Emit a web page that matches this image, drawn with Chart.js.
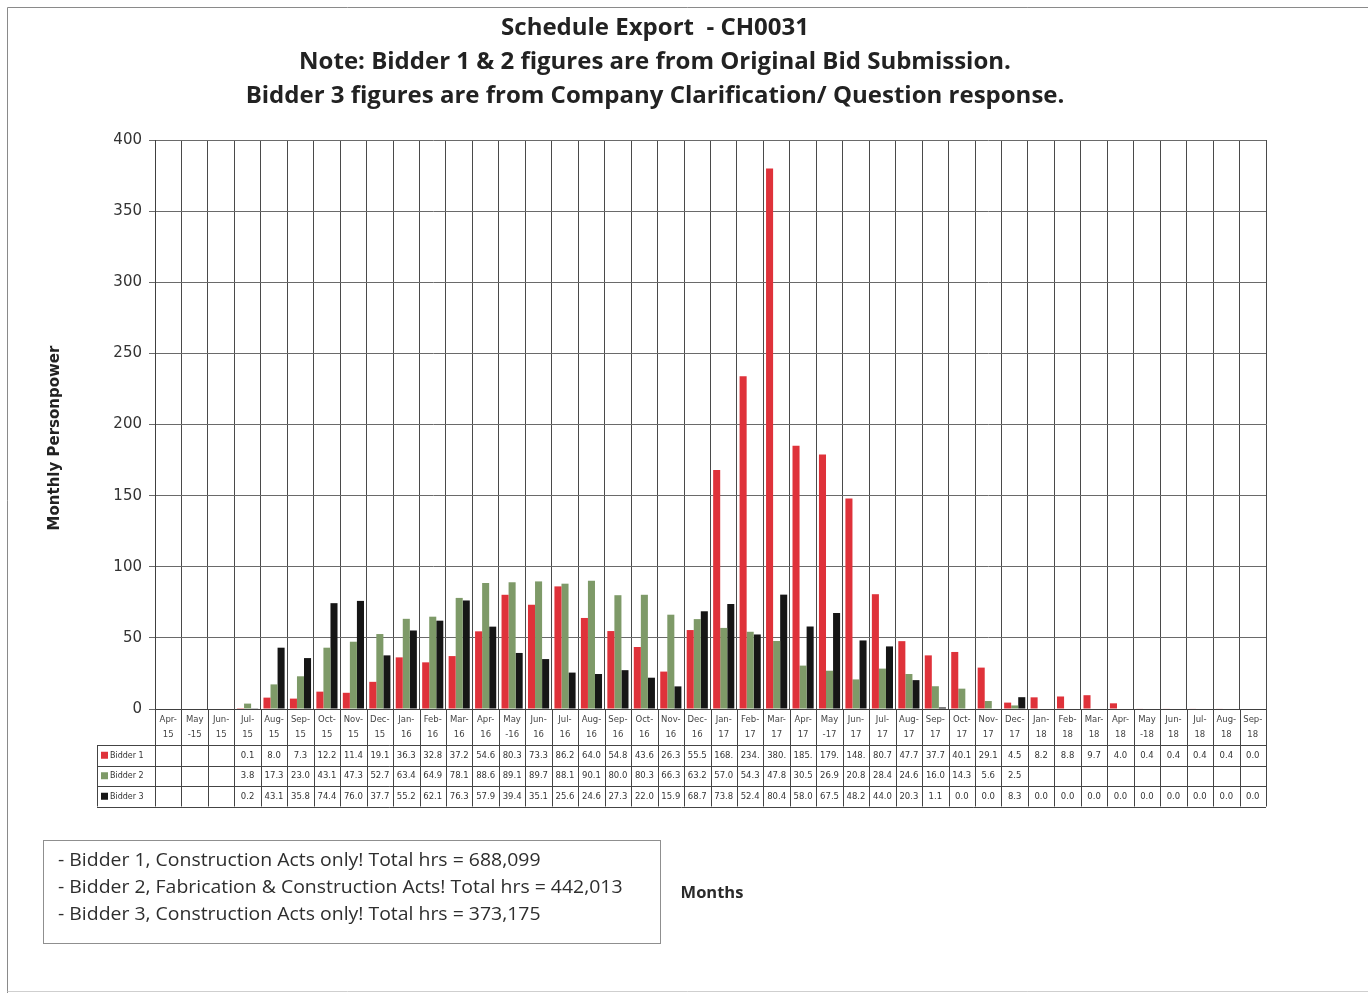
<!DOCTYPE html>
<html>
<head>
<meta charset="utf-8">
<title>Schedule Export - CH0031</title>
<script src="https://cdn.jsdelivr.net/npm/chart.js@4"></script>
<style>
  html, body { margin: 0; padding: 0; background: #fff; }
  #wrap { width: 1368px; height: 995px; position: relative; }
</style>
</head>
<body>
<div id="wrap"><canvas id="c" width="1368" height="995"></canvas></div>
<script>
// Months on the x axis
const months = [
  'Apr-15','May-15','Jun-15','Jul-15','Aug-15','Sep-15','Oct-15','Nov-15','Dec-15',
  'Jan-16','Feb-16','Mar-16','Apr-16','May-16','Jun-16','Jul-16','Aug-16','Sep-16','Oct-16','Nov-16','Dec-16',
  'Jan-17','Feb-17','Mar-17','Apr-17','May-17','Jun-17','Jul-17','Aug-17','Sep-17','Oct-17','Nov-17','Dec-17',
  'Jan-18','Feb-18','Mar-18','Apr-18','May-18','Jun-18','Jul-18','Aug-18','Sep-18'
];
// Two-line month labels shown in the table header
const monthLabels = [
  ['Apr-','15'],['May','-15'],['Jun-','15'],['Jul-','15'],['Aug-','15'],['Sep-','15'],['Oct-','15'],['Nov-','15'],['Dec-','15'],
  ['Jan-','16'],['Feb-','16'],['Mar-','16'],['Apr-','16'],['May','-16'],['Jun-','16'],['Jul-','16'],['Aug-','16'],['Sep-','16'],['Oct-','16'],['Nov-','16'],['Dec-','16'],
  ['Jan-','17'],['Feb-','17'],['Mar-','17'],['Apr-','17'],['May','-17'],['Jun-','17'],['Jul-','17'],['Aug-','17'],['Sep-','17'],['Oct-','17'],['Nov-','17'],['Dec-','17'],
  ['Jan-','18'],['Feb-','18'],['Mar-','18'],['Apr-','18'],['May','-18'],['Jun-','18'],['Jul-','18'],['Aug-','18'],['Sep-','18']
];

// Monthly personpower per bidder
const bidder1 = [
  null, null, null, 0.1, 8.0, 7.3, 12.2, 11.4, 19.1,
  36.3, 32.8, 37.2, 54.6, 80.3, 73.3, 86.2, 64.0, 54.8, 43.6, 26.3, 55.5,
  168, 234, 380, 185, 179, 148, 80.7, 47.7, 37.7, 40.1, 29.1, 4.5,
  8.2, 8.8, 9.7, 4.0, 0.4, 0.4, 0.4, 0.4, 0.0
];
const bidder2 = [
  null, null, null, 3.8, 17.3, 23.0, 43.1, 47.3, 52.7,
  63.4, 64.9, 78.1, 88.6, 89.1, 89.7, 88.1, 90.1, 80.0, 80.3, 66.3, 63.2,
  57.0, 54.3, 47.8, 30.5, 26.9, 20.8, 28.4, 24.6, 16.0, 14.3, 5.6, 2.5,
  null, null, null, null, null, null, null, null, null
];
const bidder3 = [
  null, null, null, 0.2, 43.1, 35.8, 74.4, 76.0, 37.7,
  55.2, 62.1, 76.3, 57.9, 39.4, 35.1, 25.6, 24.6, 27.3, 22.0, 15.9, 68.7,
  73.8, 52.4, 80.4, 58.0, 67.5, 48.2, 44.0, 20.3, 1.1, 0.0, 0.0, 8.3,
  0.0, 0.0, 0.0, 0.0, 0.0, 0.0, 0.0, 0.0, 0.0
];

const seriesNames = ['Bidder 1', 'Bidder 2', 'Bidder 3'];
const titleLines = [
  'Schedule Export  - CH0031',
  'Note: Bidder 1 & 2 figures are from Original Bid Submission.',
  'Bidder 3 figures are from Company Clarification/ Question response.'
];
const noteLines = [
  '- Bidder 1, Construction Acts only! Total hrs = 688,099',
  '- Bidder 2, Fabrication & Construction Acts! Total hrs = 442,013',
  '- Bidder 3, Construction Acts only! Total hrs = 373,175'
];
const yTitle = 'Monthly Personpower';
const xTitle = 'Months';

const colors = ['#df323a', '#7e9a68', '#161616'];
const seriesData = [bidder1, bidder2, bidder3];

// Data table under the plot, frame, notes box and axis titles
const tablePlugin = {
  id: 'dataTable',
  afterDraw(chart) {
    const ctx = chart.ctx;
    const x = chart.scales.x;
    const area = chart.chartArea;
    const n = months.length;
    const cw = (x.getPixelForValue(1) - x.getPixelForValue(0));
    const headTop = area.bottom;
    const headBot = x.bottom;
    const rowH = 20.5;
    const tableLeft = 97;
    const rowsBottom = headBot + rowH * 3;

    ctx.save();
    ctx.strokeStyle = '#444';
    ctx.lineWidth = 1;
    // vertical cell borders
    for (let i = 0; i <= n; i++) {
      const px = Math.round(x.getPixelForValue(i) - cw / 2) + 0.5;
      ctx.beginPath();
      ctx.moveTo(px, headTop);
      ctx.lineTo(px, rowsBottom);
      ctx.stroke();
    }
    // horizontal row borders
    for (let r = 0; r <= 3; r++) {
      const py = Math.round(headBot + r * rowH) + 0.5;
      ctx.beginPath();
      ctx.moveTo(tableLeft, py);
      ctx.lineTo(area.right, py);
      ctx.stroke();
    }
    ctx.beginPath();
    ctx.moveTo(tableLeft + 0.5, headBot);
    ctx.lineTo(tableLeft + 0.5, rowsBottom);
    ctx.stroke();

    // row headers: colour key + series name
    ctx.font = '8px "DejaVu Sans"';
    ctx.textBaseline = 'middle';
    for (let r = 0; r < 3; r++) {
      const cy = headBot + r * rowH + rowH / 2;
      ctx.fillStyle = colors[r];
      ctx.fillRect(tableLeft + 4, cy - 3.5, 7, 7);
      ctx.fillStyle = '#333';
      ctx.textAlign = 'left';
      ctx.fillText(seriesNames[r], tableLeft + 13, cy + 0.5);
    }

    // cell values
    ctx.font = '8.5px "DejaVu Sans"';
    ctx.textAlign = 'center';
    ctx.fillStyle = '#333';
    for (let r = 0; r < 3; r++) {
      const cy = headBot + r * rowH + rowH / 2 + 0.5;
      const data = seriesData[r];
      for (let i = 0; i < n; i++) {
        const v = data[i];
        if (v === null || v === undefined) continue;
        let s = v.toFixed(1);
        while (s.length > 1 && ctx.measureText(s).width > cw - 4) s = s.slice(0, -1);
        ctx.fillText(s, x.getPixelForValue(i), cy);
      }
    }

    // page frame
    ctx.strokeStyle = '#8a8a8a';
    ctx.beginPath();
    ctx.moveTo(7.5, 993);
    ctx.lineTo(7.5, 7.5);
    ctx.lineTo(1368, 7.5);
    ctx.stroke();
    ctx.strokeStyle = '#cfcfcf';
    ctx.beginPath();
    ctx.moveTo(7.5, 991.5);
    ctx.lineTo(1368, 991.5);
    ctx.stroke();

    // notes box
    ctx.strokeStyle = '#8f8f8f';
    ctx.strokeRect(43.5, 840.5, 617, 103);
    ctx.fillStyle = '#2e2e2e';
    ctx.font = '17.5px "Open Sans"';
    ctx.textAlign = 'left';
    ctx.textBaseline = 'middle';
    noteLines.forEach((t, k) => {
      ctx.save();
      ctx.translate(58, 861 + k * 27);
      ctx.scale(1.11, 1);
      ctx.fillText(t, 0, 0);
      ctx.restore();
    });

    // x axis title
    ctx.font = 'bold 16.5px "Open Sans"';
    ctx.textAlign = 'center';
    ctx.fillStyle = '#2a2a2a';
    ctx.fillText(xTitle, 712, 893);

    // y axis title
    ctx.save();
    ctx.translate(55, 438);
    ctx.rotate(-Math.PI / 2);
    ctx.font = 'bold 15px "DejaVu Sans"';
    ctx.fillStyle = '#222';
    ctx.textAlign = 'center';
    ctx.textBaseline = 'middle';
    ctx.fillText(yTitle, 0, 0);
    ctx.restore();
    ctx.restore();
  }
};

new Chart(document.getElementById('c'), {
  type: 'bar',
  data: {
    labels: months,
    datasets: seriesNames.map((name, k) => ({
      label: name,
      data: seriesData[k],
      backgroundColor: colors[k],
      borderWidth: 0,
      categoryPercentage: 0.8,
      barPercentage: 1.0
    }))
  },
  options: {
    responsive: false,
    animation: false,
    layout: { padding: { left: 44, right: 102, top: 0, bottom: 250 } },
    plugins: {
      legend: { display: false },
      tooltip: { enabled: false },
      title: {
        display: true,
        text: titleLines,
        color: '#222',
        font: { family: 'Open Sans', size: 24, weight: 'bold', lineHeight: 1.417 },
        padding: { top: 11, bottom: 27 }
      }
    },
    scales: {
      x: {
        grid: { display: true, color: '#4a4a4a', lineWidth: 1, tickLength: 0, offset: true },
        border: { display: true, color: '#404040' },
        ticks: {
          autoSkip: false, maxRotation: 0, minRotation: 0, padding: 4,
          color: '#444',
          font: { family: 'DejaVu Sans', size: 8.5, lineHeight: 1.7 },
          callback: (v, i) => monthLabels[i]
        },
        afterFit(scale) { scale.height = 36; }
      },
      y: {
        min: 0, max: 400,
        grid: { color: '#6a6a6a', lineWidth: 1, tickLength: 6 },
        border: { display: true, color: '#404040' },
        ticks: {
          stepSize: 50, padding: 7, color: '#333',
          font: { family: 'DejaVu Sans', size: 15 }
        },
        afterFit(scale) { scale.width = 111; }
      }
    }
  },
  plugins: [tablePlugin]
});
</script>
</body>
</html>
